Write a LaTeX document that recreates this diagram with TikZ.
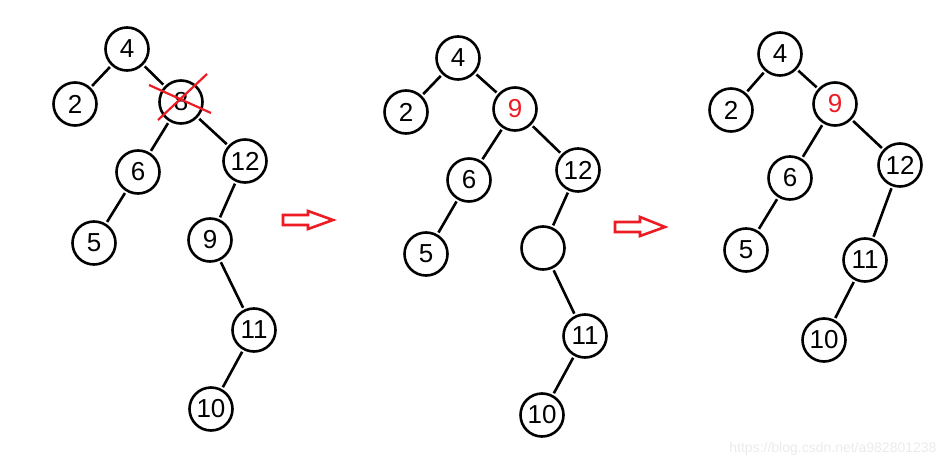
\documentclass[tikz,border=0pt]{standalone}
\usepackage{fontspec}
\setmainfont{Liberation Sans}
\definecolor{mspred}{RGB}{237,28,36}
\definecolor{wmgray}{RGB}{235,235,235}
\begin{document}
\begin{tikzpicture}[x=1pt,y=-1pt,
  tn/.style={circle,draw=black,line width=2.6pt,minimum size=43pt,inner sep=0pt,font=\fontsize{26}{26}\selectfont},
  rn/.style={tn,text=mspred},
  ed/.style={draw=black,line width=2.6pt,shorten >=2pt,shorten <=2pt},
  bigarrow/.style={draw=mspred,line width=2.6pt,line join=miter,fill=white},
  cross/.style={draw=mspred,line width=2.2pt}]
\useasboundingbox (0,0) rectangle (949,468);
% Tree 1
\node[tn] (a4) at (127,49) {4};
\node[tn] (a2) at (75,104) {2};
\node[tn] (a8) at (181,102) {8};
\node[tn] (a6) at (138,172) {6};
\node[tn] (a12) at (245,161) {12};
\node[tn] (a5) at (94,243) {5};
\node[tn] (a9) at (210,240) {9};
\node[tn] (a11) at (254,330) {11};
\node[tn] (a10) at (211,409) {10};
\draw[ed] (a4) -- (a2);
\draw[ed] (a4) -- (a8);
\draw[ed] (a8) -- (a6);
\draw[ed] (a8) -- (a12);
\draw[ed] (a6) -- (a5);
\draw[ed] (a12) -- (a9);
\draw[ed] (a9) -- (a11);
\draw[ed] (a11) -- (a10);
\coordinate (c1a) at (149,85);
\coordinate (c1b) at (211,113);
\coordinate (c2a) at (207,74);
\coordinate (c2b) at (158,120);
\draw[cross] (c1a) -- (c1b);
\draw[cross] (c2a) -- (c2b);
% Arrow 1
\draw[bigarrow] (283,215) -- (308,215) -- (308,211) -- (333,220) -- (308,229) -- (308,225) -- (283,225) -- cycle;
% Tree 2
\node[tn] (b4) at (458,58) {4};
\node[tn] (b2) at (406,112) {2};
\node[rn] (b9) at (515,109) {9};
\node[tn] (b6) at (469,180) {6};
\node[tn] (b12) at (578,170) {12};
\node[tn] (b5) at (426,254) {5};
\node[tn] (be) at (543,248) {};
\node[tn] (b11) at (585,336) {11};
\node[tn] (b10) at (542,415) {10};
\draw[ed] (b4) -- (b2);
\draw[ed] (b4) -- (b9);
\draw[ed] (b9) -- (b6);
\draw[ed] (b9) -- (b12);
\draw[ed] (b6) -- (b5);
\draw[ed] (b12) -- (be);
\draw[ed] (be) -- (b11);
\draw[ed] (b11) -- (b10);
% Arrow 2
\draw[bigarrow] (615,222) -- (640,222) -- (640,217) -- (665,227) -- (640,236) -- (640,232) -- (615,232) -- cycle;
% Tree 3
\node[tn] (c4) at (780,54) {4};
\node[tn] (c2) at (731,110) {2};
\node[rn] (c9) at (835,104) {9};
\node[tn] (c6) at (790,178) {6};
\node[tn] (c12) at (900,165) {12};
\node[tn] (c5) at (746,250) {5};
\node[tn] (c11) at (865,260) {11};
\node[tn] (c10) at (824,340) {10};
\draw[ed] (c4) -- (c2);
\draw[ed] (c4) -- (c9);
\draw[ed] (c9) -- (c6);
\draw[ed] (c9) -- (c12);
\draw[ed] (c6) -- (c5);
\draw[ed] (c12) -- (c11);
\draw[ed] (c11) -- (c10);
% watermark
\node[text=wmgray,font=\fontsize{14}{14}\selectfont,anchor=east] (wm) at (940,449) {https://blog.csdn.net/a982801238};
\end{tikzpicture}
\end{document}
